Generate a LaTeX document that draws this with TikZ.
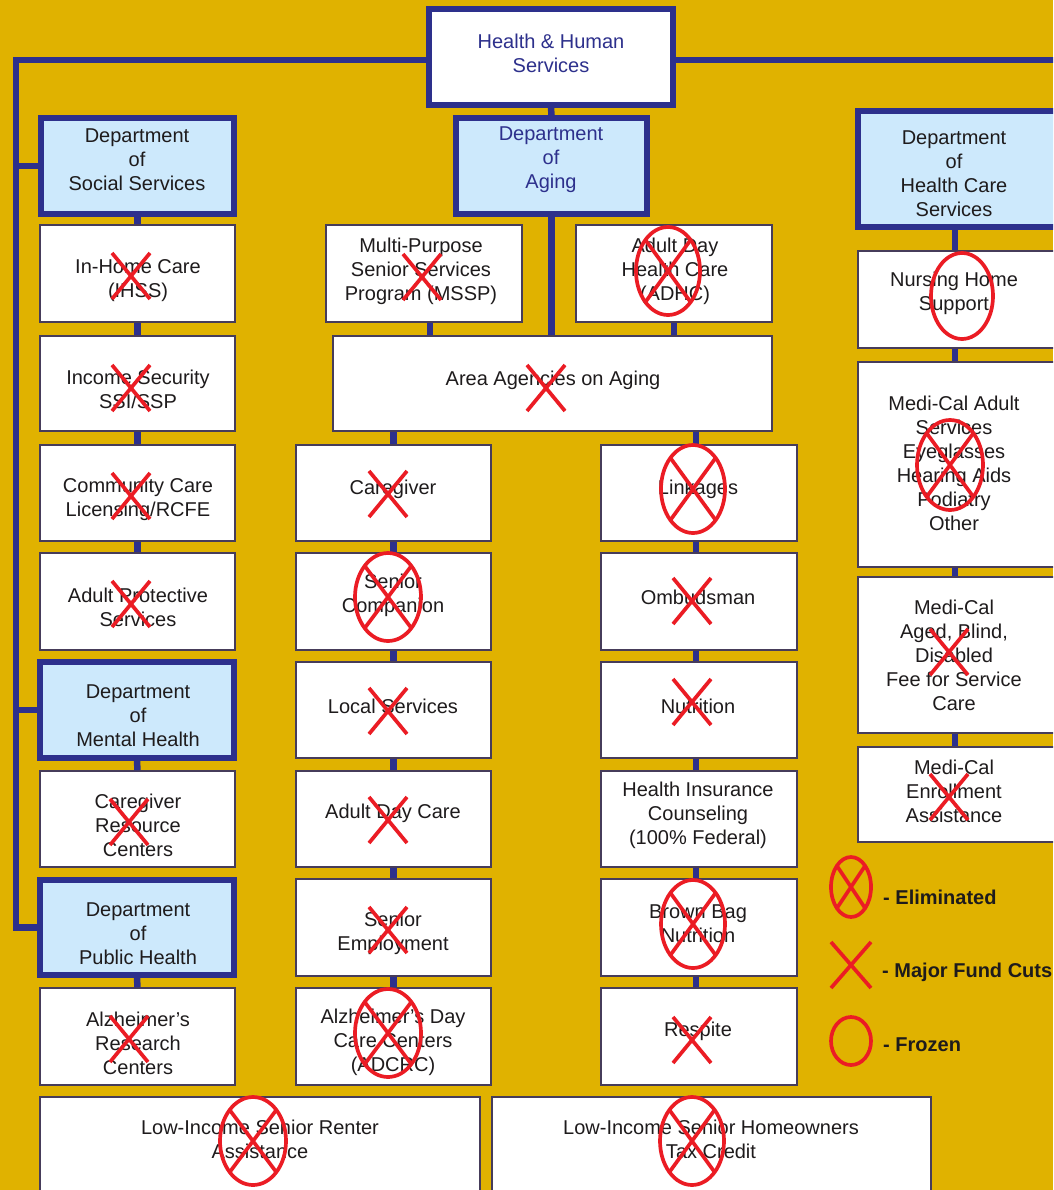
\documentclass[tikz,border=0pt]{standalone}
\usepackage{fontspec}
\setmainfont{Liberation Sans}
\definecolor{bg}{RGB}{224,178,0}
\definecolor{navy}{RGB}{45,48,140}
\definecolor{lblue}{RGB}{205,233,252}
\definecolor{bord}{RGB}{70,60,90}
\definecolor{mred}{RGB}{235,28,36}
\definecolor{txt}{RGB}{30,27,28}
\newcommand\fs{\fontsize{20pt}{24pt}\selectfont}
\newcommand\apos{{\char"0027}}
\newcommand\mybox[9][wbox]{%
  \node[#1, minimum width={#5-#3}, minimum height={#6-#4}] (#2) at ({(#3+#5)/2},{(#4+#6)/2}) {};
  \node[tx] at (#7,#8) {#9};}
\newcommand\mkx[2]{\draw[mk] ({#1-19},{#2-23}) -- ({#1+19},{#2+23}) ({#1-19},{#2+23}) -- ({#1+19},{#2-23});}
\newcommand\mkel[4]{\draw[mk] (#1,#2) ellipse [x radius=#3, y radius=#4];
  \draw[mk] ({#1-0.707*#3},{#2-0.707*#4}) -- ({#1+0.707*#3},{#2+0.707*#4}) ({#1-0.707*#3},{#2+0.707*#4}) -- ({#1+0.707*#3},{#2-0.707*#4});}
\newcommand\mkfr[4]{\draw[mk] (#1,#2) ellipse [x radius=#3, y radius=#4];}
\begin{document}
\begin{tikzpicture}[x=1pt,y=-1pt,
  wbox/.style={draw=bord, line width=1.4pt, fill=white, inner sep=0pt},
  dbox/.style={draw=navy, line width=6pt, fill=lblue, inner sep=0pt},
  hbox/.style={draw=navy, line width=6pt, fill=white, inner sep=0pt},
  tx/.style={font=\fs, text=txt, align=center, inner sep=0pt},
  conn/.style={draw=navy, line width=6.5pt},
  mk/.style={draw=mred, line width=3.7pt},
  leg/.style={font=\fs\bfseries, text=txt, anchor=west, inner sep=0pt}]
\useasboundingbox (0,0) rectangle (1053,1190);
\clip (0,0) rectangle (1053,1190);
\fill[bg] (0,0) rectangle (1053,1190);

% top
\mybox[hbox]{hhs}{429}{9}{673}{105}{551}{53}{\textcolor{navy}{Health \& Human}\\\textcolor{navy}{Services}}
% departments
\mybox[dbox]{dss}{41}{118}{234}{214}{137}{160}{Department\\of\\Social Services}
\mybox[dbox]{dage}{456}{118}{647}{214}{551}{160}{\textcolor{navy}{Department}\\\textcolor{navy}{of}\\\textcolor{navy}{Aging}}
\mybox[dbox]{dhcs}{858}{111}{1062}{227}{954}{174}{Department\\of\\Health Care\\Services}
\mybox[dbox]{dmh}{40}{662}{234}{758}{138}{716}{Department\\of\\Mental Health}
\mybox[dbox]{dph}{40}{880}{234}{975}{138}{934}{Department\\of\\Public Health}

% social column
\mybox{ihss}{40}{225}{235}{322}{138}{281}{In-Home Care\\(IHSS)}
\mybox{inc}{40}{336}{235}{431}{138}{389}{Income Security\\SSI/SSP}
\mybox{ccl}{40}{445}{235}{541}{138}{499}{Community Care\\Licensing/RCFE}
\mybox{aps}{40}{553}{235}{650}{138}{607}{Adult Protective\\Services}
\mybox{crc}{40}{771}{235}{867}{138}{825}{Caregiver\\Resource\\Centers}
\mybox{arc}{40}{988}{235}{1085}{138}{1043}{Alzheimer\apos s\\Research\\Centers}

% aging
\mybox{mssp}{326}{225}{522}{322}{421}{271}{Multi-Purpose\\Senior Services\\Program (MSSP)}
\mybox{adhc}{576}{225}{772}{322}{675}{271}{Adult Day\\Health Care\\(ADHC)}
\mybox{aaa}{333}{336}{772}{431}{553}{380}{Area Agencies on Aging}
\mybox{cg}{296}{445}{491}{541}{393}{489}{Caregiver}
\mybox{sc}{296}{553}{491}{650}{393}{595}{Senior\\Companion}
\mybox{ls}{296}{662}{491}{758}{393}{706}{Local Services}
\mybox{adc}{296}{771}{491}{867}{393}{813}{Adult Day Care}
\mybox{se}{296}{879}{491}{976}{393}{933}{Senior\\Employment}
\mybox{adcrc}{296}{988}{491}{1085}{393}{1042}{Alzheimer\apos s Day\\Care Centers\\(ADCRC)}
\mybox{lnk}{601}{445}{797}{541}{698}{489}{Linkages}
\mybox{omb}{601}{553}{797}{650}{698}{597}{Ombudsman}
\mybox{nut}{601}{662}{797}{758}{698}{706}{Nutrition}
\mybox{hic}{601}{771}{797}{867}{698}{815}{Health Insurance\\Counseling\\(100\% Federal)}
\mybox{bbn}{601}{879}{797}{976}{698}{924}{Brown Bag\\Nutrition}
\mybox{res}{601}{988}{797}{1085}{698}{1031}{Respite}

% health care
\mybox{nhs}{858}{251}{1062}{348}{954}{293}{Nursing Home\\Support}
\mybox{mca}{858}{362}{1062}{567}{954}{463}{Medi-Cal Adult\\Services\\Eyeglasses\\Hearing Aids\\Podiatry\\Other}
\mybox{mcab}{858}{577}{1062}{733}{954}{655}{Medi-Cal\\Aged, Blind,\\Disabled\\Fee for Service\\Care}
\mybox{mce}{858}{747}{1062}{842}{954}{791}{Medi-Cal\\Enrollment\\Assistance}

% bottom
\mybox{rent}{40}{1097}{480}{1205}{260}{1139}{Low-Income Senior Renter\\Assistance}
\mybox{home}{492}{1097}{931}{1205}{711}{1139}{Low-Income Senior Homeowners\\Tax Credit}

% connectors
\coordinate (tl) at (16,60);
\coordinate (tr) at (1065,60);
\coordinate (hc) at (955,0);
\draw[conn] (hhs.west |- tl) -- (tl) -- (tl |- dph.west) -- (dph.west);
\draw[conn] (hhs.east |- tr) -- (tr);
\draw[conn] (tl |- dss.west) -- (dss.west);
\draw[conn] (tl |- dmh.west) -- (dmh.west);
\draw[conn] (dss.south) -- (ihss.north);
\draw[conn] (ihss.south) -- (inc.north);
\draw[conn] (inc.south) -- (ccl.north);
\draw[conn] (ccl.south) -- (aps.north);
\draw[conn] (dmh.south) -- (crc.north);
\draw[conn] (dph.south) -- (arc.north);
\draw[conn] (hhs.south) -- (dage.north);
\draw[conn] (dage.south) -- (dage.south |- aaa.north);
\draw[conn] ([xshift=6pt]mssp.south) -- ([xshift=6pt]mssp.south |- aaa.north);
\draw[conn] (adhc.south) -- (adhc.south |- aaa.north);
\draw[conn] (cg.north |- aaa.south) -- (cg.north);
\draw[conn] (cg.south) -- (sc.north);
\draw[conn] (sc.south) -- (ls.north);
\draw[conn] (ls.south) -- (adc.north);
\draw[conn] (adc.south) -- (se.north);
\draw[conn] (se.south) -- (adcrc.north);
\draw[conn] ([xshift=-3pt]lnk.north |- aaa.south) -- ([xshift=-3pt]lnk.north);
\draw[conn] ([xshift=-3pt]lnk.south) -- ([xshift=-3pt]omb.north);
\draw[conn] ([xshift=-3pt]omb.south) -- ([xshift=-3pt]nut.north);
\draw[conn] ([xshift=-3pt]nut.south) -- ([xshift=-3pt]hic.north);
\draw[conn] ([xshift=-3pt]hic.south) -- ([xshift=-3pt]bbn.north);
\draw[conn] ([xshift=-3pt]bbn.south) -- ([xshift=-3pt]res.north);
\draw[conn] (hc |- dhcs.south) -- (hc |- nhs.north);
\draw[conn] (hc |- nhs.south) -- (hc |- mca.north);
\draw[conn] (hc |- mca.south) -- (hc |- mcab.north);
\draw[conn] (hc |- mcab.south) -- (hc |- mce.north);

% marks
\mkx{131}{276}
\mkx{131}{388}
\mkx{131}{496}
\mkx{131}{604}
\mkx{129}{822}
\mkx{129}{1039}
\mkx{422}{277}
\mkel{668}{271}{32}{44}
\mkx{546}{388}
\mkx{388}{494}
\mkel{388}{597}{33}{44}
\mkx{388}{711}
\mkx{388}{820}
\mkx{388}{930}
\mkel{388}{1033}{33}{44}
\mkel{693}{489}{32}{44}
\mkx{692}{601}
\mkx{692}{702}
\mkel{693}{924}{32}{44}
\mkx{692}{1040}
\mkfr{962}{296}{31}{43}
\mkel{950}{465}{33}{45}
\mkx{949}{652}
\mkx{949}{797}
\mkel{253}{1141}{33}{44}
\mkel{692}{1141}{32}{44}

% legend
\mkel{851}{887}{20}{30}
\node[leg] (l1) at (883,897) {- Eliminated};
\draw[mk] (831,942) -- (871,988) (831,988) -- (871,942);
\node[leg] (l2) at (882,972) {- Major Fund Cuts};
\mkfr{851}{1041}{20}{24}
\node[leg] (l3) at (883,1045) {- Frozen};
\end{tikzpicture}
\end{document}
